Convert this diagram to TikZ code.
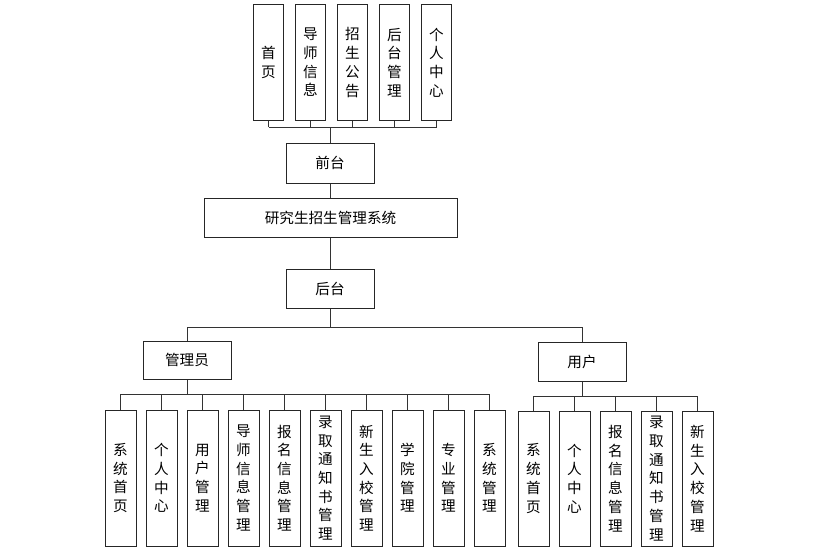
\documentclass[tikz,border=0pt]{standalone}
\usepackage{fontspec}
\newfontfamily\cjk{Noto Sans CJK SC}
\usetikzlibrary{positioning}

\begin{document}
\begin{tikzpicture}[x=1pt,y=-1pt,
  box/.style={draw=black!85,line width=1pt,inner sep=0pt,align=center,
    font=\cjk\fontsize{14.6}{18.7}\selectfont},
  vbox/.style={box,minimum width=31pt,minimum height=136pt},
  hbox/.style={box,minimum width=88pt,minimum height=39pt},
  link/.style={draw=black!80,line width=0.9pt}]
\useasboundingbox (0,0) rectangle (835,551);
% front end
\foreach \n/\t [count=\i from 0] in {home/首\\页,tutor/导\\师\\信\\息,notice/招\\生\\公\\告,back/后\\台\\管\\理,self/个\\人\\中\\心}
  \node[box,minimum width=30pt,minimum height=115pt] (top\i) at (268.5+42*\i,62.5) {\t};
\node[hbox,minimum height=40pt] (front) at (330,163) {前台};
\node[box,minimum width=253pt,minimum height=39pt] (sys) at (330.5,217.5) {研究生招生管理系统};
\node[hbox] (rear) at (330,288.5) {后台};
\node[hbox,minimum height=38pt] (admin) at (187,360) {管理员};
\node[hbox] (user) at (582,361.5) {用户};
% admin modules
\foreach \t [count=\i from 0] in {系\\统\\首\\页,个\\人\\中\\心,用\\户\\管\\理,导\\师\\信\\息\\管\\理,报\\名\\信\\息\\管\\理,录\\取\\通\\知\\书\\管\\理,新\\生\\入\\校\\管\\理,学\\院\\管\\理,专\\业\\管\\理,系\\统\\管\\理}
  \node[vbox] (a\i) at (120.5+41*\i,478) {\t};
% user modules
\foreach \t [count=\i from 0] in {系\\统\\首\\页,个\\人\\中\\心,报\\名\\信\\息\\管\\理,录\\取\\通\\知\\书\\管\\理,新\\生\\入\\校\\管\\理}
  \node[vbox,minimum height=135pt] (u\i) at (533.5+41*\i,478.5) {\t};
% buses
\coordinate (bustop) at (0,127);
\coordinate (busrear) at (0,327);
\coordinate (busadmin) at (0,394);
\coordinate (bususer) at (0,396);
% links
\foreach \i in {0,...,4}
  \draw[link] (top\i.south) -- (top\i.south |- bustop);
\draw[link] (top0.south |- bustop) -- (top4.south |- bustop);
\draw[link] (front.north) -- (front.north |- bustop);
\draw[link] (front.south) -- (sys.north -| front.south);
\draw[link] (sys.south -| rear.north) -- (rear.north);
\draw[link] (rear.south) -- (rear.south |- busrear);
\draw[link] (admin.north) -- (admin.north |- busrear) -- (user.north |- busrear) -- (user.north);
\draw[link] (admin.south) -- (admin.south |- busadmin);
\draw[link] (a0.north |- busadmin) -- (a9.north |- busadmin);
\foreach \i in {0,...,9}
  \draw[link] (a\i.north) -- (a\i.north |- busadmin);
\draw[link] (user.south) -- (user.south |- bususer);
\draw[link] (u0.north |- bususer) -- (u4.north |- bususer);
\foreach \i in {0,...,4}
  \draw[link] (u\i.north) -- (u\i.north |- bususer);
\end{tikzpicture}
\end{document}
